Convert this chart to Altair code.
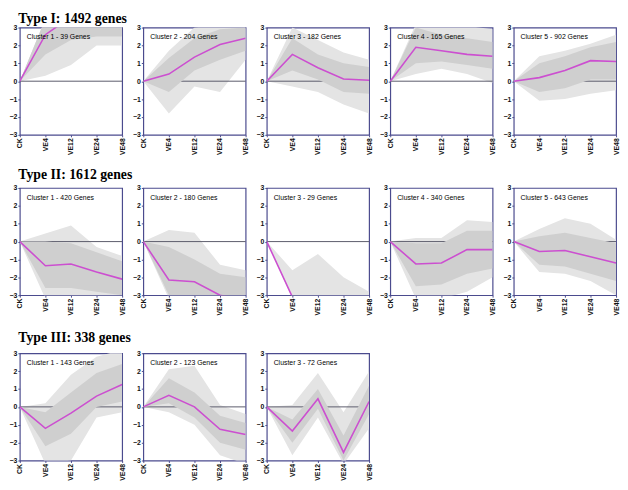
import altair as alt
import pandas as pd

TIMES = ["CK", "VE4", "VE12", "VE24", "VE48"]

ROW_TITLES = ["Type I: 1492 genes", "Type II: 1612 genes", "Type III: 338 genes"]

T1_COUNTS = [39, 204, 182, 165, 902]
T2_COUNTS = [420, 180, 29, 340, 643]
T3_COUNTS = [143, 123, 72]

# mean (magenta) profiles
T1_MEAN = [[0, 2.6, 3.6, 3.6, 3.5], [0, 0.4, 1.35, 2.05, 2.4], [0, 1.5, 0.75, 0.12, 0.05],
           [0, 1.9, 1.7, 1.5, 1.4], [0, 0.2, 0.6, 1.15, 1.1]]
T2_MEAN = [[0, -1.35, -1.25, -1.7, -2.1], [0, -2.15, -2.25, -3.0, -3.3], [0, -3.1, -3.5, -3.5, -3.5],
           [0, -1.25, -1.2, -0.45, -0.45], [0, -0.55, -0.5, -0.85, -1.2]]
T3_MEAN = [[0, -1.2, -0.35, 0.6, 1.25], [0, 0.65, 0.0, -1.25, -1.55], [0, -1.35, 0.45, -2.55, 0.3]]

# outer (sparse) envelope of the gene profiles
T1_OLO = [[0, 0.3, 0.9, 2.0, 2.0], [0, -1.8, -0.3, -0.6, 1.2], [0, -0.3, -0.6, -1.3, -1.8],
          [0, 0.4, 0.7, 0.4, -0.1], [0, -1.1, -1.0, -0.7, -0.5]]
T1_OHI = [[0, 3.5, 3.5, 3.5, 3.5], [0, 1.7, 3.0, 3.2, 3.2], [0, 3.0, 2.3, 1.6, 1.2],
          [0, 3.2, 3.2, 3.1, 2.9], [0, 1.4, 1.7, 2.1, 2.6]]
T2_OLO = [[0, -3.2, -3.2, -3.2, -3.2], [0, -3.2, -3.2, -3.2, -3.2], [0, -3.2, -3.2, -3.2, -3.2],
          [0, -3.2, -3.2, -2.8, -2.0], [0, -1.7, -1.8, -2.2, -3.0]]
T2_OHI = [[0, 0.45, 0.9, -0.3, -0.8], [0, 0.65, 0.5, -1.3, -1.6], [0, -1.6, -0.7, -2.0, -2.8],
          [0, 0.2, 0.2, 1.2, 1.1], [0, 0.7, 1.3, 1.0, 0.1]]
T3_OLO = [[0, -3.2, -3.0, -0.6, -0.3], [0, -0.3, -1.0, -2.7, -3.2], [0, -2.7, -0.6, -3.2, -1.2]]
T3_OHI = [[0, 0.2, 1.8, 2.8, 3.2], [0, 2.1, 2.3, 0.1, -0.4], [0, 0.1, 1.9, -0.3, 2.0]]

# inner (dense) envelope of the gene profiles
T1_ILO = [[0, 1.5, 2.3, 2.5, 2.5], [0, -0.6, 0.6, 1.2, 1.7], [0, 0.6, 0.1, -0.6, -0.7],
          [0, 1.0, 1.1, 0.9, 0.7], [0, -0.6, -0.4, 0.1, 0.1]]
T1_IHI = [[0, 3.5, 3.5, 3.5, 3.5], [0, 1.3, 2.4, 2.9, 3.0], [0, 2.4, 1.5, 1.0, 0.8],
          [0, 3.0, 2.6, 2.4, 2.2], [0, 1.0, 1.4, 1.9, 2.2]]
T2_ILO = [[0, -2.6, -2.6, -2.8, -3.0], [0, -3.0, -3.0, -3.0, -3.0], [0, -3.2, -3.2, -3.2, -3.2],
          [0, -2.5, -2.4, -1.8, -1.5], [0, -1.3, -1.4, -1.8, -2.2]]
T2_IHI = [[0, 0.0, -0.1, -0.6, -1.1], [0, -0.3, -1.0, -1.8, -2.0], [0, -3.2, -3.2, -3.2, -3.2],
          [0, -0.1, -0.1, 0.6, 0.6], [0, 0.3, 0.5, 0.2, -0.1]]
T3_ILO = [[0, -2.2, -1.5, 0.0, 0.3], [0, 0.2, -0.6, -2.0, -2.4], [0, -2.0, -0.1, -3.0, -0.4]]
T3_IHI = [[0, -0.3, 0.8, 1.9, 2.4], [0, 1.6, 0.8, -0.5, -0.9], [0, -0.7, 1.0, -1.6, 1.2]]

Y_TICKS = [-3, -2, -1, 0, 1, 2, 3]

FRAME = "#4b4b8e"
MEAN_COLOR = "#cc4fd0"


def panel(count, idx, mean, olo, ohi, ilo, ihi):
    df = pd.DataFrame({"t": TIMES, "mean": mean, "olo": olo, "ohi": ohi, "ilo": ilo, "ihi": ihi})
    xaxis = alt.Axis(title=None, labelAngle=270, labelFontSize=7, labelPadding=1,
                     labelFontWeight="bold", tickSize=2, tickColor=FRAME, domain=False, grid=False)
    xscale = alt.Scale(padding=0)
    yscale = alt.Scale(domain=[-3, 3], nice=False)
    yaxis = alt.Axis(title=None, values=Y_TICKS, labelFontSize=7, labelOverlap=False,
                     labelFontWeight="bold", labelPadding=1, tickSize=2, tickColor=FRAME,
                     domain=False, grid=False)

    def X(field="t"):
        return alt.X(f"{field}:N", sort=TIMES, scale=xscale, axis=xaxis)

    def Y(field):
        return alt.Y(f"{field}:Q", scale=yscale, axis=yaxis)

    base = alt.Chart(df)
    outer = base.mark_area(color="#e4e4e4", clip=True).encode(x=X(), y=Y("olo"), y2="ohi:Q")
    zero = alt.Chart(pd.DataFrame({"z": [0]})).mark_rule(color="#5a5a6a", strokeWidth=1).encode(
        y=Y("z"))
    inner = base.mark_area(color="#cfcfcf", clip=True).encode(x=X(), y=Y("ilo"), y2="ihi:Q")
    line = base.mark_line(color=MEAN_COLOR, strokeWidth=1.6, clip=True).encode(x=X(), y=Y("mean"))
    lab = alt.Chart(pd.DataFrame({"t": ["CK"], "v": [2.45],
                                  "lab": [f"Cluster {idx} - {count} Genes"]})).mark_text(
        align="left", baseline="middle", dx=7, fontSize=7, font="Liberation Sans",
        color="#000000").encode(x=X(), y=Y("v"), text="lab:N")
    return alt.layer(outer, zero, inner, line, lab).properties(width=104, height=109)


def row(title, counts, means, olos, ohis, ilos, ihis, offset):
    charts = [panel(counts[i], i + 1, means[i], olos[i], ohis[i], ilos[i], ihis[i])
              for i in range(len(counts))]
    return alt.hconcat(*charts, spacing=21.5, bounds="flush").properties(
        title=alt.TitleParams(title, anchor="start", font="Liberation Serif", fontSize=14,
                              fontWeight="bold", color="#000000", dx=10, dy=-2, offset=offset))


top = alt.vconcat(
    row(ROW_TITLES[0], T1_COUNTS, T1_MEAN, T1_OLO, T1_OHI, T1_ILO, T1_IHI, -5),
    row(ROW_TITLES[1], T2_COUNTS, T2_MEAN, T2_OLO, T2_OHI, T2_ILO, T2_IHI, 0),
    spacing=12,
)
chart = alt.vconcat(
    top,
    row(ROW_TITLES[2], T3_COUNTS, T3_MEAN, T3_OLO, T3_OHI, T3_ILO, T3_IHI, 2),
    spacing=15,
).properties(padding=0).configure_view(stroke=FRAME, strokeWidth=1.2).configure_axis(
    labelFont="Liberation Sans", labelColor="#111111")

chart.save("out.html", embed_options={"renderer": "svg", "actions": False})
